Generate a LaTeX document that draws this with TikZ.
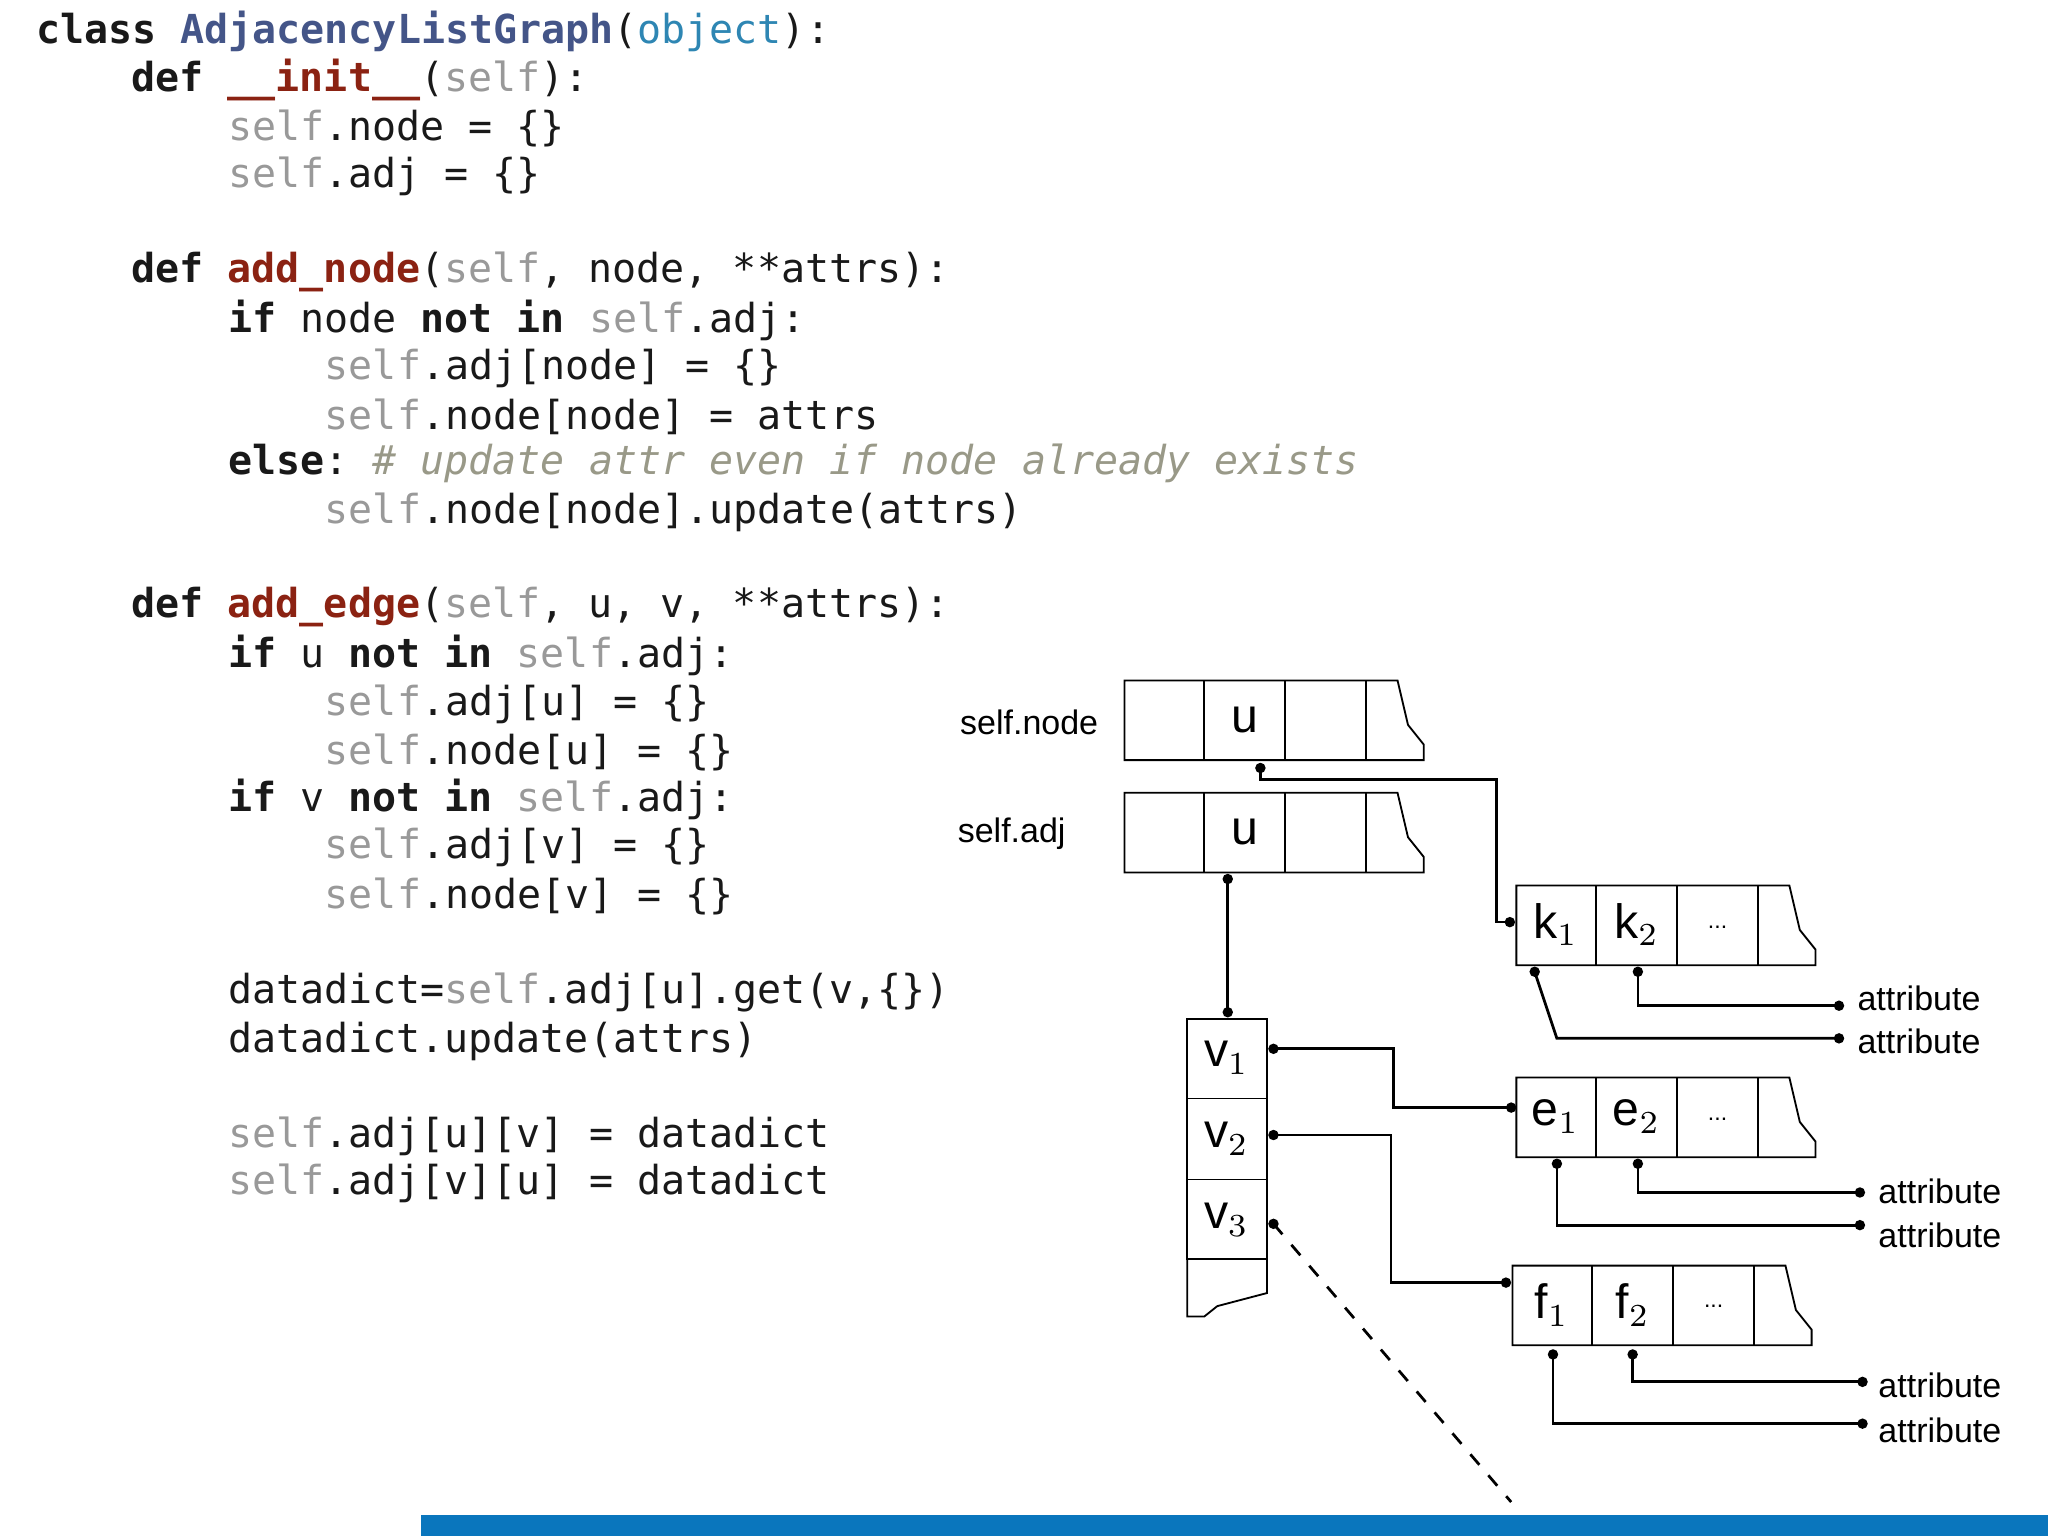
\documentclass[tikz,border=0pt]{standalone}
\usepackage{fontspec}
\setmainfont{Liberation Sans}
\setmonofont{DejaVu Sans Mono}
\definecolor{kwblue}{HTML}{445588}
\definecolor{objblue}{HTML}{2E86B3}
\definecolor{fnred}{HTML}{8B2212}
\definecolor{selfg}{HTML}{999999}
\definecolor{cmtg}{HTML}{999988}
\definecolor{barblue}{HTML}{0A76BD}
\newcommand\kw[1]{\textbf{#1}}
\newcommand\slf[1]{\textcolor{selfg}{#1}}
\newcommand\fn[1]{\textcolor{fnred}{\textbf{#1}}}
\newcommand\myrow[5]{%
 \draw (#1,#2) -- ++(209,0) -- ++(8,34) -- ++(12,15) -- ++(0,12) -- ++(-229,0) -- cycle;
 \draw (#1+61,#2) -- ++(0,61) (#1+123,#2) -- ++(0,61) (#1+185,#2) -- ++(0,61);
 \node[lab] (#3a) at (#1+30,#2+30) {#4};
 \node[lab] (#3b) at (#1+92,#2+30) {#5};
}
\begin{document}
\begin{tikzpicture}[x=0.01cm,y=-0.01cm,
 code/.style={anchor=west,inner sep=0pt,font=\fontsize{8.7}{10}\ttfamily,text=black!90},
 lab/.style={font=\fontsize{10.5}{12}\selectfont},
 small/.style={font=\fontsize{7.4}{9}\selectfont,inner sep=1pt},
 dot/.style={circle,fill=black,inner sep=0pt,minimum size=0.08cm},
 conn/.style={draw=black,line width=0.6pt}]
\useasboundingbox (0,0) rectangle (1568,1176);
\fill[barblue] (322,1160) rectangle (1568,1176);
% code
\node[code] (c1) at (27,24) {\kw{class} \textcolor{kwblue}{\textbf{AdjacencyListGraph}}(\textcolor{objblue}{object}):};
\node[code] (c2) at (100,61) {\kw{def} \fn{\_\_init\_\_}(\slf{self}):};
\node[code] (c3) at (174,98) {\slf{self}.node = \{\}};
\node[code] (c4) at (174,135) {\slf{self}.adj = \{\}};
\node[code] (c5) at (100,208) {\kw{def} \fn{add\_node}(\slf{self}, node, **attrs):};
\node[code] (c6) at (174,245) {\kw{if} node \kw{not} \kw{in} \slf{self}.adj:};
\node[code] (c7) at (248,282) {\slf{self}.adj[node] = \{\}};
\node[code] (c8) at (248,319) {\slf{self}.node[node] = attrs};
\node[code] (c9) at (174,355) {\kw{else}: \textcolor{cmtg}{\itshape\# update attr even if node already exists}};
\node[code] (c10) at (248,392) {\slf{self}.node[node].update(attrs)};
\node[code] (c11) at (100,465) {\kw{def} \fn{add\_edge}(\slf{self}, u, v, **attrs):};
\node[code] (c12) at (174,502) {\kw{if} u \kw{not} \kw{in} \slf{self}.adj:};
\node[code] (c13) at (248,539) {\slf{self}.adj[u] = \{\}};
\node[code] (c14) at (248,576) {\slf{self}.node[u] = \{\}};
\node[code] (c15) at (174,612) {\kw{if} v \kw{not} \kw{in} \slf{self}.adj:};
\node[code] (c16) at (248,649) {\slf{self}.adj[v] = \{\}};
\node[code] (c17) at (248,686) {\slf{self}.node[v] = \{\}};
\node[code] (c18) at (174,760) {datadict=\slf{self}.adj[u].get(v,\{\})};
\node[code] (c19) at (174,797) {datadict.update(attrs)};
\node[code] (c20) at (174,870) {\slf{self}.adj[u][v] = datadict};
\node[code] (c21) at (174,906) {\slf{self}.adj[v][u] = datadict};
% rows
\node[small,anchor=east] (ln) at (845,553) {self.node};
\node[small,anchor=east] (la) at (820,638) {self.adj};
\myrow{861}{521}{n}{}{u}
\myrow{861}{607}{a}{}{u}
\myrow{1161}{678}{k}{k$_1$}{k$_2$}
\myrow{1161}{825}{e}{e$_1$}{e$_2$}
\myrow{1158}{969}{f}{f$_1$}{f$_2$}
\node[font=\tiny] (kd) at (1315,710) {...};
\node[font=\tiny] (ed) at (1315,857) {...};
\node[font=\tiny] (fd) at (1312,1000) {...};
% v column
\draw (909,780) rectangle (970,964);
\draw (909,841) -- (970,841) (909,903) -- (970,903);
\draw (909,964) -- (909,1008) -- (922,1008) -- (932,1000) -- (970,990) -- (970,964);
\node[lab] (v1) at (939,810) {v$_1$};
\node[lab] (v2) at (939,872) {v$_2$};
\node[lab] (v3) at (939,934) {v$_3$};
% dots
\node[dot] (d1) at (965,588) {};
\node[dot] (d2) at (1156,706) {};
\node[dot] (d3) at (940,673) {};
\node[dot] (d4) at (940,775) {};
\node[dot] (d5) at (975,803) {};
\node[dot] (d6) at (1157,848) {};
\node[dot] (d7) at (975,869) {};
\node[dot] (d8) at (1153,982) {};
\node[dot] (d9) at (975,937) {};
\coordinate (dend) at (1157,1150);
\node[dot] (k1d) at (1175,744) {};
\node[dot] (k2d) at (1254,744) {};
\node[dot] (e1d) at (1192,891) {};
\node[dot] (e2d) at (1254,891) {};
\node[dot] (f1d) at (1189,1037) {};
\node[dot] (f2d) at (1250,1037) {};
\node[dot] (ka) at (1408,770) {};
\node[dot] (kb) at (1408,795) {};
\node[dot] (ea) at (1424,913) {};
\node[dot] (eb) at (1424,938) {};
\node[dot] (fa) at (1426,1058) {};
\node[dot] (fb) at (1426,1090) {};
\node[small,anchor=west] (tka) at (1418,764) {attribute};
\node[small,anchor=west] (tkb) at (1418,797) {attribute};
\node[small,anchor=west] (tea) at (1434,912) {attribute};
\node[small,anchor=west] (teb) at (1434,946) {attribute};
\node[small,anchor=west] (tfa) at (1434,1061) {attribute};
\node[small,anchor=west] (tfb) at (1434,1095) {attribute};
% connectors
\draw[conn] (d1.center) -- (965,597) -- (1146,597) |- (d2.center);
\draw[conn] (d3.center) -- (d4.center);
\draw[conn] (d5.center) -- (1067,803) |- (d6.center);
\draw[conn] (d7.center) -- (1065,869) |- (d8.center);
\draw[conn,dashed] (d9.center) -- (dend);
\draw[conn] (k1d.center) -- (1192,795) -- (kb.center);
\draw[conn] (k2d.center) |- (ka.center);
\draw[conn] (e1d.center) |- (eb.center);
\draw[conn] (e2d.center) |- (ea.center);
\draw[conn] (f1d.center) |- (fb.center);
\draw[conn] (f2d.center) |- (fa.center);
\end{tikzpicture}
\end{document}
